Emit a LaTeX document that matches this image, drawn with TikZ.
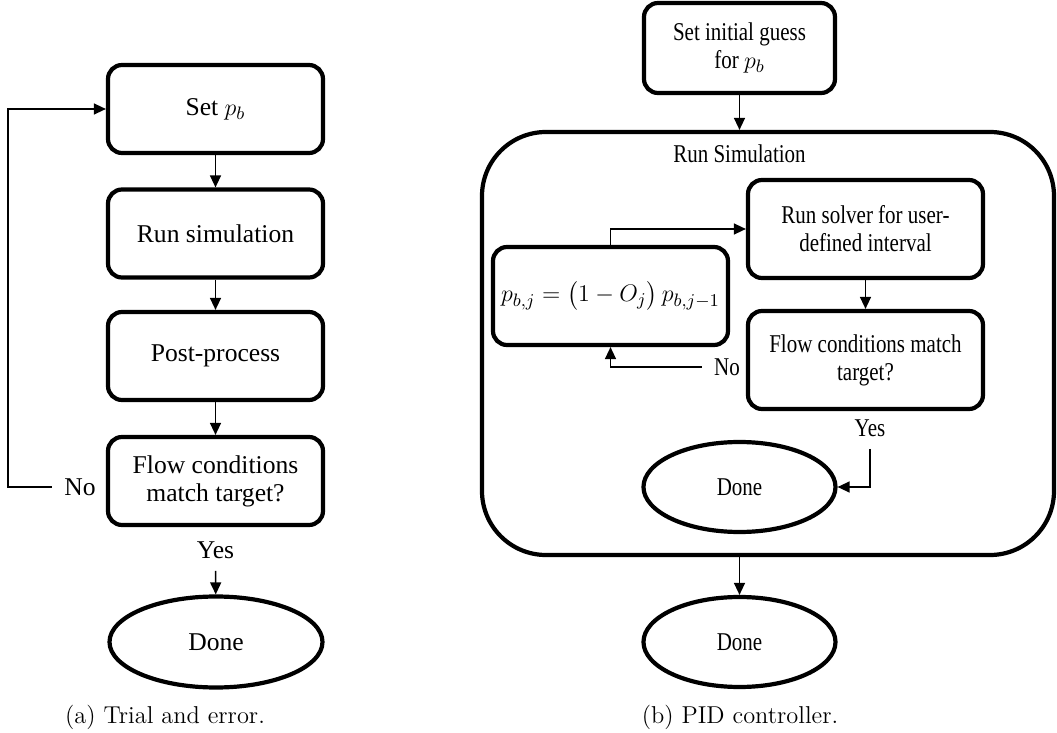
\documentclass[tikz,border=0pt]{standalone}
\usepackage{fontspec}
\usepackage{amsmath}
\usetikzlibrary{shapes.geometric,arrows.meta}
\newfontfamily\tnr{Liberation Serif}
\newfontfamily\tnrc[FakeStretch=0.82]{Liberation Serif}

\begin{document}
\begin{tikzpicture}[x=0.5pt,y=-0.5pt,
  blk/.style={draw,line width=2.1pt,rounded corners=7pt,align=center,inner sep=0pt,
    minimum width=107.5pt,minimum height=44pt,font=\tnr\fontsize{12.8}{14}\selectfont},
  rblk/.style={blk,minimum width=117.5pt,minimum height=49pt,font=\tnrc\fontsize{12.8}{14}\selectfont},
  term/.style={ellipse,draw,line width=2.1pt,inner sep=0pt,minimum width=96pt,minimum height=45pt},
  lbl/.style={inner sep=6pt},
  arr/.style={line width=0.7pt,-{Triangle[length=6pt,width=5.5pt]}}]
\useasboundingbox (0,0) rectangle (1057,733);
% (a) trial and error
\node[blk] (setA) at (215.5,109) {Set $p_b$};
\node[blk] (runA) at (215.5,233.5) {Run simulation};
\node[blk] (postA) at (215.5,356) {Post-process};
\node[blk] (flowA) at (215.5,481) {Flow conditions\\match target?};
\node[lbl,font=\tnr\fontsize{12.8}{14}\selectfont] (yesA) at (215.5,550) {Yes};
\node[lbl,font=\tnr\fontsize{12.8}{14}\selectfont] (noA) at (80,487) {No};
\node[term,minimum width=106.5pt,minimum height=45.5pt,font=\tnr\fontsize{12.8}{14}\selectfont] (doneA) at (216,642) {Done};
\coordinate (loopA) at (8,487);

\draw[arr] (setA) -- (runA);
\draw[arr] (runA) -- (postA);
\draw[arr] (postA) -- (flowA);
\draw[arr] (yesA) -- (doneA);
\draw[arr] (noA.west) -- (loopA) |- (setA.west);

% (b) PID controller
\node[rblk,minimum width=95.5pt,minimum height=45pt] (init) at (739.5,48) {Set initial guess\\for $p_b$};
\node[draw,line width=2.1pt,rounded corners=32pt,minimum width=286pt,minimum height=211.5pt] (sim) at (768,343.5) {};
\node[lbl,font=\tnrc\fontsize{12.8}{14}\selectfont] (simlbl) at (739.5,154) {Run Simulation};
\node[rblk] (solver) at (865.5,229) {Run solver for user-\\defined interval};
\node[rblk] (flowB) at (865.5,360) {Flow conditions match\\target?};
\node[rblk,font=\tnr\fontsize{12.8}{14}\selectfont] (upd) at (610.5,296) {$p_{b,j} = \bigl(1 - O_j\bigr)\, p_{b,j-1}$};
\node[lbl,font=\tnrc\fontsize{12.8}{14}\selectfont] (noB) at (727,367) {No};
\node[lbl,font=\tnrc\fontsize{12.8}{14}\selectfont] (yesB) at (870,428) {Yes};
\node[term,font=\tnrc\fontsize{12.8}{14}\selectfont] (doneB) at (739.5,487) {Done};
\node[term,font=\tnrc\fontsize{12.8}{14}\selectfont] (doneC) at (739.5,642) {Done};

\draw[arr] (init) -- (init |- sim.north);
\draw[arr] (upd.north) |- (solver.west);
\draw[arr] (solver) -- (flowB);
\draw[arr] (noB.west) -| (upd.south);
\draw[arr] (yesB.south) |- (doneB.east);
\draw[arr] (doneC |- sim.south) -- (doneC);

% captions
\node[font=\fontsize{12.2}{14}\selectfont] (capA) at (165,717) {(a) Trial and error.};
\node[font=\fontsize{12.2}{14}\selectfont] (capB) at (740,717) {(b) PID controller.};
\end{tikzpicture}
\end{document}
